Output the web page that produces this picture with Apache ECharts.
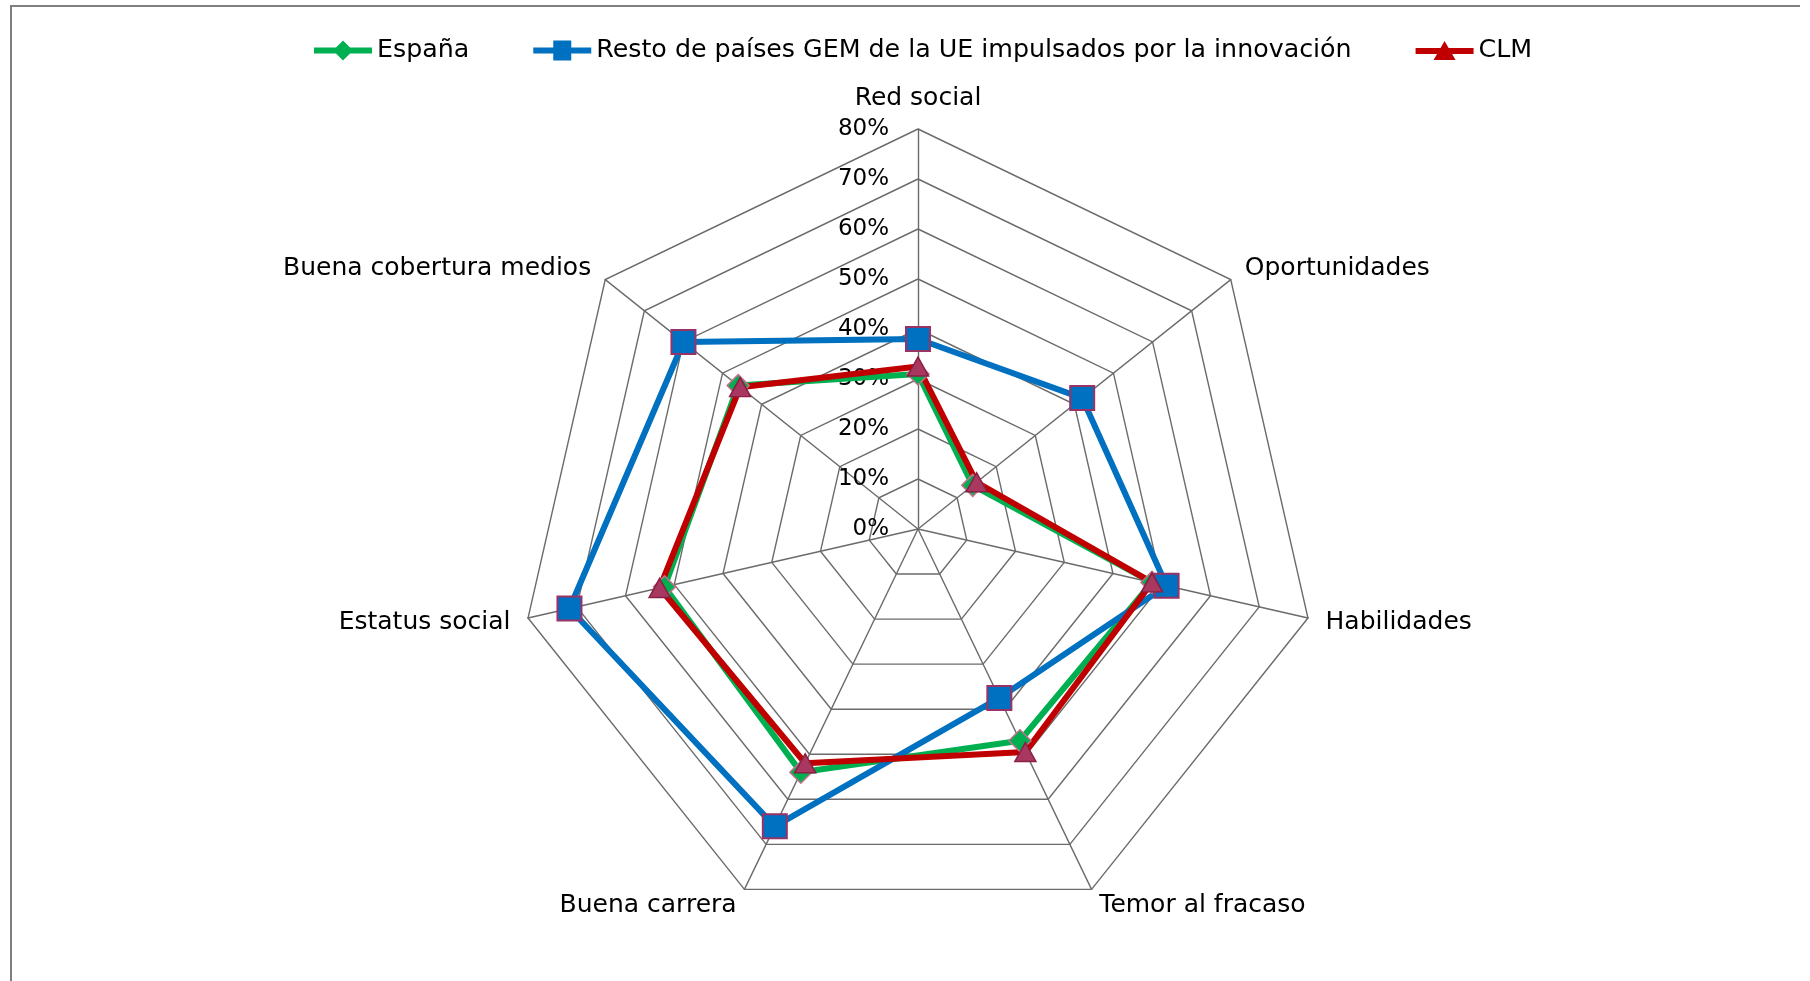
<!DOCTYPE html>
<html>
<head>
<meta charset="utf-8">
<script src="https://cdn.jsdelivr.net/npm/echarts@6/dist/echarts.min.js"></script>
<style>
html,body{margin:0;padding:0;background:#fff;}
#chart{width:1810px;height:981px;}
</style>
</head>
<body>
<div id="chart"></div>
<script>
// ---- data (clockwise order starting at the top) ----
var categories = ['Red social', 'Oportunidades', 'Habilidades', 'Temor al fracaso', 'Buena carrera', 'Estatus social', 'Buena cobertura medios'];
var seriesNames = ['España', 'Resto de países GEM de la UE impulsados por la innovación', 'CLM'];
var espana = [31, 14, 48, 47, 54, 52, 46];
var resto  = [38, 42, 51, 37.5, 66, 71.5, 60];
var clm    = [32.5, 15, 48, 49.5, 52, 53, 45.5];
var axisMax = 80;
var axisStep = 10;

// ECharts radar lays indicators out counter-clockwise; reorder so they read clockwise
var order = [0, 6, 5, 4, 3, 2, 1];
function ccw(arr) { return order.map(function (i) { return arr[i]; }); }

var FONT = 'DejaVu Sans';
var chart = echarts.init(document.getElementById('chart'), null, {renderer: 'canvas'});

var indicators = ccw(categories).map(function (c, i) {
  var o = {name: c, min: 0, max: axisMax};
  if (i === 0) {
    o.axisLabel = {show: true};
  }
  return o;
});

var iconEsp = 'path://M0,7 L22,7 L29,0 L36,7 L58,7 L58,13 L36,13 L29,20 L22,13 L0,13 Z';
var iconResto = 'path://M0,7 L20,7 L20,0 L38,0 L38,7 L58,7 L58,13 L38,13 L38,20 L20,20 L20,13 L0,13 Z';
var iconClm = 'path://M0,7 L24.95,7 L29,0 L33.05,7 L58,7 L58,13 L36.53,13 L40,19 L18,19 L21.47,13 L0,13 Z';

var option = {
  backgroundColor: '#ffffff',
  animation: false,
  graphic: [{
    type: 'polyline',
    shape: {points: [[11, 990], [11, 6], [1800, 6]]},
    style: {stroke: '#7f7f7f', lineWidth: 2, fill: null},
    silent: true
  }],
  legend: {
    left: 309,
    top: 33,
    itemWidth: 58,
    itemHeight: 20,
    itemGap: 64,
    textStyle: {fontFamily: FONT, fontSize: 25.3, color: '#000'},
    data: [
      {name: seriesNames[0], icon: iconEsp, itemStyle: {color: '#00B050', borderWidth: 0}},
      {name: seriesNames[1], icon: iconResto, itemStyle: {color: '#0070C0', borderWidth: 0}},
      {name: seriesNames[2], icon: iconClm, itemStyle: {color: '#C00000', borderWidth: 0}}
    ]
  },
  radar: {
    center: [918, 529],
    radius: 400,
    startAngle: 90,
    shape: 'polygon',
    splitNumber: axisMax / axisStep,
    indicator: indicators,
    nameGap: 18,
    axisName: {color: '#000', fontFamily: FONT, fontSize: 25},
    axisLine: {show: true, lineStyle: {color: '#6b6b6b', width: 1.4}},
    splitLine: {show: true, lineStyle: {color: '#6b6b6b', width: 1.4}},
    splitArea: {show: false},
    axisTick: {show: false},
    axisLabel: {
      show: false,
      margin: 29,
      fontFamily: FONT,
      fontSize: 23,
      color: '#000',
      formatter: function (v) { return v + '%'; }
    }
  },
  series: [{
    type: 'radar',
    data: [
      {
        name: seriesNames[0], value: ccw(espana),
        symbol: 'diamond', symbolSize: 22,
        lineStyle: {color: '#00B050', width: 6},
        itemStyle: {color: '#00B050', borderColor: '#C0708A', borderWidth: 1.5}
      },
      {
        name: seriesNames[1], value: ccw(resto),
        symbol: 'rect', symbolSize: 24,
        lineStyle: {color: '#0070C0', width: 6},
        itemStyle: {color: '#0070C0', borderColor: '#993366', borderWidth: 2}
      },
      {
        name: seriesNames[2], value: ccw(clm),
        symbol: 'triangle', symbolSize: [21, 19],
        lineStyle: {color: '#C00000', width: 6},
        itemStyle: {color: '#A8385F', borderColor: '#8A1E44', borderWidth: 1.5}
      }
    ]
  }]
};
chart.setOption(option);
</script>
</body>
</html>
